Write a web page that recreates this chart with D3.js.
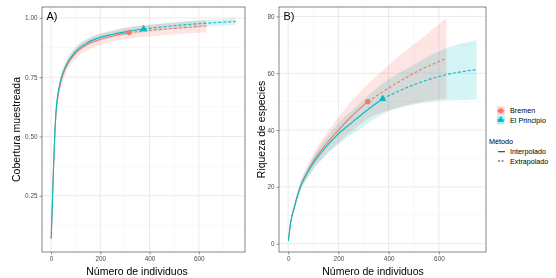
<!DOCTYPE html>
<html>
<head>
<meta charset="utf-8">
<script src="https://cdn.jsdelivr.net/npm/d3@7"></script>
<style>
body { margin: 0; background: #fff; }
text { font-family: "Liberation Sans", Arial, sans-serif; }
</style>
</head>
<body>
<div class="container"></div>
<script>
// sitios y metodos
const sites = ['Bremen', 'El Principio'];
const methods = ['Interpolado', 'Extrapolado'];
const siteColors = ['#F8766D', '#00BFC4'];

// A) cobertura muestreada
const bremenCovX  = [1, 5, 10, 15, 20, 30, 40, 60, 100, 150, 200, 250, 317, 420, 527, 630];
const bremenCovY  = [0.07, 0.2, 0.36, 0.49, 0.59, 0.68, 0.73, 0.79, 0.852, 0.89, 0.91, 0.924, 0.938, 0.949, 0.958, 0.966];
const bremenCovLo = [0.06, 0.18, 0.34, 0.47, 0.56, 0.65, 0.70, 0.765, 0.827, 0.866, 0.886, 0.9, 0.913, 0.924, 0.933, 0.94];
const bremenCovHi = [0.08, 0.22, 0.38, 0.51, 0.62, 0.71, 0.76, 0.815, 0.877, 0.914, 0.934, 0.948, 0.963, 0.974, 0.983, 0.99];

const principioCovX  = [1, 5, 10, 15, 20, 30, 40, 60, 100, 150, 200, 250, 300, 376, 500, 620, 750];
const principioCovY  = [0.07, 0.2, 0.36, 0.5, 0.6, 0.69, 0.74, 0.797, 0.858, 0.897, 0.918, 0.931, 0.941, 0.953, 0.967, 0.977, 0.985];
const principioCovLo = [0.065, 0.19, 0.35, 0.49, 0.59, 0.68, 0.728, 0.784, 0.844, 0.883, 0.904, 0.917, 0.927, 0.939, 0.953, 0.963, 0.971];
const principioCovHi = [0.075, 0.21, 0.37, 0.51, 0.61, 0.70, 0.752, 0.81, 0.872, 0.911, 0.932, 0.945, 0.955, 0.967, 0.981, 0.991, 0.999];

// B) riqueza de especies
const bremenRichX  = [1, 10, 25, 50, 75, 100, 150, 200, 250, 317, 420, 527, 630];
const bremenRichY  = [1, 7.5, 13, 20.5, 25, 29, 35, 40, 44.6, 50, 55.9, 61.2, 65.2];
const bremenRichLo = [1, 7, 12, 19, 23, 26.5, 31.5, 35.5, 39.5, 44, 47.5, 49.8, 51];
const bremenRichHi = [1, 8, 14, 22, 27, 31.5, 38.5, 44.5, 50, 56, 64.5, 72, 79.4];

const principioRichX  = [1, 10, 25, 50, 75, 100, 150, 200, 250, 300, 376, 487, 620, 750];
const principioRichY  = [1, 7.5, 13, 20.3, 24.7, 28.3, 34, 38.7, 42.4, 46, 51, 55.5, 59.3, 61.3];
const principioRichLo = [1, 7, 12, 18.8, 22.8, 26, 31, 35, 38.3, 41.3, 45.6, 48.7, 50.3, 50.8];
const principioRichHi = [1, 8, 14, 21.8, 26.6, 30.6, 37, 42.4, 46.5, 50.7, 56.4, 62.3, 68.5, 71.6];

// tamano observado de cada muestra (fin de la interpolacion)
const observedN = [317, 376];

const xTicks = [0, 200, 400, 600];
const covTicks = [0.25, 0.50, 0.75, 1.00];
const richTicks = [0, 20, 40, 60, 80];

const W = 556, H = 278;

const svg = d3.select(".container").append("svg")
    .attr("width", W)
    .attr("height", H);

function makeSeries(xs, ys, lo, hi, nObs) {
    const pts = xs.map((x, i) => ({x: x, y: ys[i], lo: lo[i], hi: hi[i]}));
    const k = xs.indexOf(nObs);
    return {pts: pts, interp: pts.slice(0, k + 1), extrap: pts.slice(k), obs: pts[k]};
}

const panels = [
    {
        label: 'A)', left: 42, right: 245, top: 7, bottom: 252,
        yTitle: 'Cobertura muestreada', yTitleX: 16, xTitleX: 137,
        ticks: covTicks, fmt: d3.format('.2f'),
        series: [
            makeSeries(bremenCovX, bremenCovY, bremenCovLo, bremenCovHi, observedN[0]),
            makeSeries(principioCovX, principioCovY, principioCovLo, principioCovHi, observedN[1])
        ]
    },
    {
        label: 'B)', left: 279, right: 486, top: 7, bottom: 252,
        yTitle: 'Riqueza de especies', yTitleX: 261, xTitleX: 373,
        ticks: richTicks, fmt: d3.format('d'),
        series: [
            makeSeries(bremenRichX, bremenRichY, bremenRichLo, bremenRichHi, observedN[0]),
            makeSeries(principioRichX, principioRichY, principioRichLo, principioRichHi, observedN[1])
        ]
    }
];

panels.forEach(p => {
    const allPts = p.series.flatMap(s => s.pts);
    const xExt = d3.extent(allPts, d => d.x);
    const yExt = [d3.min(allPts, d => d.lo), d3.max(allPts, d => d.hi)];
    const xPad = (xExt[1] - xExt[0]) * 0.05;
    const yPad = (yExt[1] - yExt[0]) * 0.05;

    const x = d3.scaleLinear().domain([xExt[0] - xPad, xExt[1] + xPad]).range([p.left, p.right]);
    const y = d3.scaleLinear().domain([yExt[0] - yPad, yExt[1] + yPad]).range([p.bottom, p.top]);

    const g = svg.append("g").style("isolation", "isolate");

    // grilla menor y mayor (theme_bw)
    const step = p.ticks[1] - p.ticks[0];
    const yMinor = d3.range(p.ticks[0] - step / 2, y.domain()[1], step).filter(v => v > y.domain()[0]);
    const xMinor = [100, 300, 500, 700];
    g.selectAll(".ymin").data(yMinor).enter().append("line")
        .attr("x1", p.left).attr("x2", p.right)
        .attr("y1", d => y(d)).attr("y2", d => y(d))
        .attr("stroke", "#f2f2f2").attr("stroke-width", 0.5);
    g.selectAll(".xmin").data(xMinor).enter().append("line")
        .attr("y1", p.top).attr("y2", p.bottom)
        .attr("x1", d => x(d)).attr("x2", d => x(d))
        .attr("stroke", "#f2f2f2").attr("stroke-width", 0.5);
    g.selectAll(".ymaj").data(p.ticks).enter().append("line")
        .attr("x1", p.left).attr("x2", p.right)
        .attr("y1", d => y(d)).attr("y2", d => y(d))
        .attr("stroke", "#ebebeb").attr("stroke-width", 1);
    g.selectAll(".xmaj").data(xTicks).enter().append("line")
        .attr("y1", p.top).attr("y2", p.bottom)
        .attr("x1", d => x(d)).attr("x2", d => x(d))
        .attr("stroke", "#ebebeb").attr("stroke-width", 1);

    const area = d3.area()
        .x(d => x(d.x)).y0(d => y(d.lo)).y1(d => y(d.hi))
        .curve(d3.curveMonotoneX);
    const line = d3.line()
        .x(d => x(d.x)).y(d => y(d.y))
        .curve(d3.curveMonotoneX);

    // bandas de confianza (multiply -> el solape queda gris)
    p.series.forEach((s, i) => {
        g.append("path").attr("d", area(s.pts))
            .attr("fill", siteColors[i]).attr("fill-opacity", i === 0 ? 0.2 : 0.17)
            .style("mix-blend-mode", "multiply");
    });
    // curvas
    p.series.forEach((s, i) => {
        g.append("path").attr("d", line(s.interp))
            .attr("fill", "none").attr("stroke", siteColors[i]).attr("stroke-width", 1.1);
        g.append("path").attr("d", line(s.extrap))
            .attr("fill", "none").attr("stroke", siteColors[i]).attr("stroke-width", 1.1)
            .attr("stroke-dasharray", "3,2");
    });
    // puntos observados
    p.series.forEach((s, i) => {
        g.append("path")
            .attr("d", d3.symbol().type(i === 0 ? d3.symbolCircle : d3.symbolTriangle).size(i === 0 ? 22 : 24)())
            .attr("transform", `translate(${x(s.obs.x)},${y(s.obs.y)})`)
            .attr("fill", siteColors[i]);
    });

    // borde del panel
    g.append("rect")
        .attr("x", p.left).attr("y", p.top)
        .attr("width", p.right - p.left).attr("height", p.bottom - p.top)
        .attr("fill", "none").attr("stroke", "#333").attr("stroke-width", 0.6);

    // ejes
    const xAxis = g.append("g").attr("transform", `translate(0,${p.bottom})`)
        .call(d3.axisBottom(x).tickValues(xTicks).tickSize(2.5).tickPadding(2));
    const yAxis = g.append("g").attr("transform", `translate(${p.left},0)`)
        .call(d3.axisLeft(y).tickValues(p.ticks).tickFormat(p.fmt).tickSize(2.5).tickPadding(2));
    [xAxis, yAxis].forEach(a => {
        a.select(".domain").remove();
        a.selectAll("line").attr("stroke", "#333").attr("stroke-width", 0.5);
        a.selectAll("text").attr("fill", "#4d4d4d").attr("font-size", "6.4px")
            .style("font-family", '"Liberation Sans", Arial, sans-serif');
    });

    g.append("text").text(p.label)
        .attr("x", p.left + 4.5).attr("y", p.top + 13)
        .attr("font-size", "11px").attr("fill", "#000");

    g.append("text").text("Número de individuos")
        .attr("x", p.xTitleX).attr("y", 275)
        .attr("text-anchor", "middle").attr("font-size", "10.5px").attr("fill", "#000");

    g.append("text").text(p.yTitle)
        .attr("transform", `translate(${p.yTitleX + 3.5},${(p.top + p.bottom) / 2}) rotate(-90)`)
        .attr("text-anchor", "middle").attr("font-size", "10.5px").attr("fill", "#000");
});

// leyenda
const leg = svg.append("g");
sites.forEach((s, i) => {
    const cy = 110.7 + i * 9.3;
    leg.append("rect").attr("x", 497).attr("y", cy - 4.3).attr("width", 7.5).attr("height", 8.6)
        .attr("fill", siteColors[i]).attr("fill-opacity", 0.3);
    leg.append("line").attr("x1", 497).attr("x2", 504.5).attr("y1", cy).attr("y2", cy)
        .attr("stroke", siteColors[i]).attr("stroke-width", 1.1);
    leg.append("path")
        .attr("d", d3.symbol().type(i === 0 ? d3.symbolCircle : d3.symbolTriangle).size(20)())
        .attr("transform", `translate(500.75,${cy})`).attr("fill", siteColors[i]);
    leg.append("text").text(s).attr("x", 510).attr("y", cy + 2.5)
        .attr("font-size", "7.2px").attr("fill", "#000");
});
leg.append("text").text("Método").attr("x", 489).attr("y", 143.5)
    .attr("font-size", "7.2px").attr("fill", "#000");
methods.forEach((m, i) => {
    const cy = 151.7 + i * 9.3;
    leg.append("line").attr("x1", 498).attr("x2", 505).attr("y1", cy).attr("y2", cy)
        .attr("stroke", "#333").attr("stroke-width", 1.1)
        .attr("stroke-dasharray", i === 0 ? null : "2,1.5");
    leg.append("text").text(m).attr("x", 510).attr("y", cy + 2.5)
        .attr("font-size", "7.2px").attr("fill", "#000");
});
</script>
</body>
</html>
